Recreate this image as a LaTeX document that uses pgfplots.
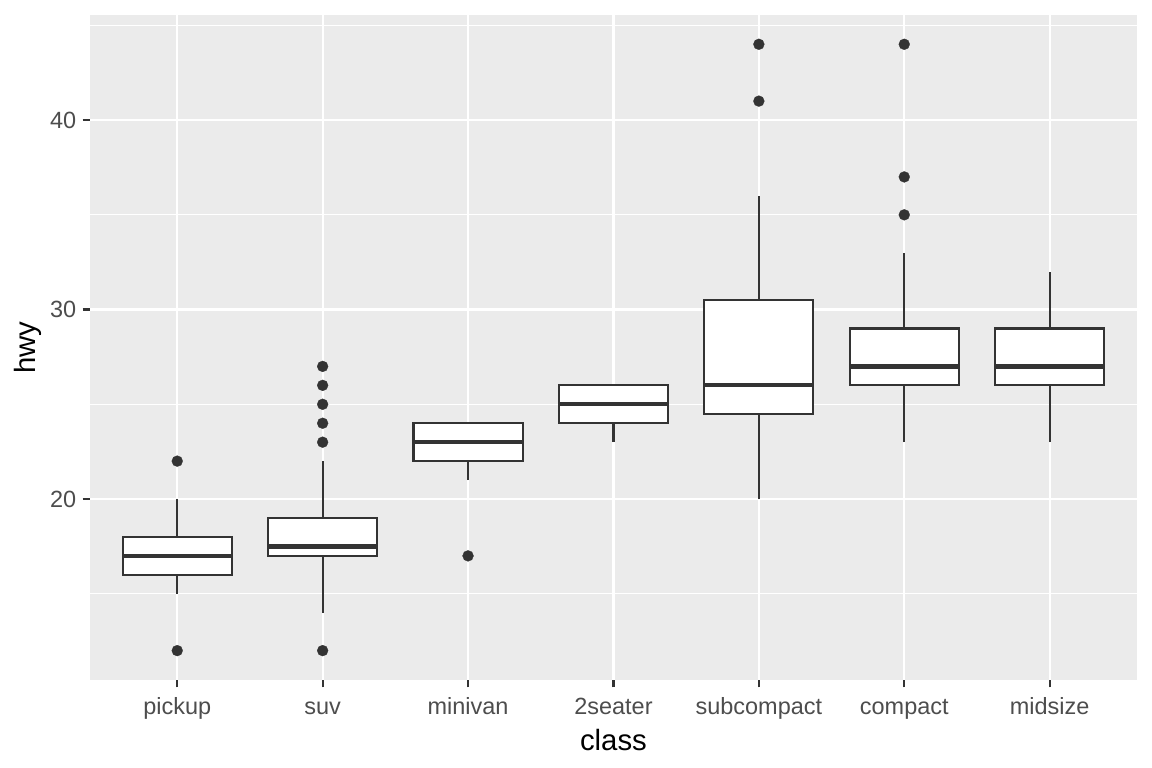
\documentclass[border=0pt]{standalone}
\usepackage{pgfplots}
\pgfplotsset{compat=1.18}
\usepackage{fontspec}
\setmainfont{Liberation Sans}

\definecolor{panelbg}{HTML}{EBEBEB}
\definecolor{boxline}{HTML}{333333}
\definecolor{ticktext}{HTML}{4D4D4D}

\begin{document}
\begin{tikzpicture}
\path[use as bounding box] (-33.75pt,-33pt) rectangle (398.25pt,255pt);
\begin{axis}[
  at={(0,0)}, anchor=south west,
  scale only axis,
  width=392.6pt, height=249.4pt,
  xmin=0.4, xmax=7.6,
  ymin=10.45, ymax=45.55,
  xtick={1,2,3,4,5,6,7},
  xticklabels={pickup,suv,minivan,2seater,subcompact,compact,midsize},
  ytick={20,30,40},
  minor ytick={15,25,35,45},
  grid=both,
  major grid style={white, line width=0.8pt},
  minor grid style={white, line width=0.4pt},
  axis background/.style={fill=panelbg},
  axis line style={draw=none},
  tick pos=left,
  tick align=outside,
  major tick length=2.75pt,
  minor tick length=0pt,
  tick style={boxline, line width=0.8pt},
  /pgf/number format/assume math mode=true,
  ticklabel style={font=\fontsize{8.8}{10}\selectfont, text=ticktext},
  xticklabel style={anchor=north, inner sep=0pt, text height=6.5pt, text depth=2pt, yshift=-3.6pt},
  yticklabel style={anchor=east, inner sep=0pt, xshift=-2.2pt},
  xlabel={class},
  ylabel={hwy},
  label style={font=\fontsize{11}{13}\selectfont},
  xlabel style={at={(axis description cs:0.5,0)}, anchor=center, yshift=-22.5pt},
  ylabel style={at={([xshift=-23.25pt]axis description cs:0,0.5)}, anchor=center},
  unbounded coords=jump,
]
% whiskers
\addplot[boxline, line width=0.8pt] coordinates {
  (1,15) (1,16) (nan,nan) (1,18) (1,20) (nan,nan)
  (2,14) (2,17) (nan,nan) (2,19) (2,22) (nan,nan)
  (3,21) (3,22) (nan,nan)
  (4,23) (4,24) (nan,nan)
  (5,20) (5,24.5) (nan,nan) (5,30.5) (5,36) (nan,nan)
  (6,23) (6,26) (nan,nan) (6,29) (6,33) (nan,nan)
  (7,23) (7,26) (nan,nan) (7,29) (7,32)
};
% boxes (lower and upper quartile)
\addplot[draw=boxline, fill=white, line width=0.8pt, line join=miter] coordinates {
  (0.625,16) (1.375,16) (1.375,18) (0.625,18) (0.625,16) (1.375,16) (nan,nan)
  (1.625,17) (2.375,17) (2.375,19) (1.625,19) (1.625,17) (2.375,17) (nan,nan)
  (2.625,22) (3.375,22) (3.375,24) (2.625,24) (2.625,22) (3.375,22) (nan,nan)
  (3.625,24) (4.375,24) (4.375,26) (3.625,26) (3.625,24) (4.375,24) (nan,nan)
  (4.625,24.5) (5.375,24.5) (5.375,30.5) (4.625,30.5) (4.625,24.5) (5.375,24.5) (nan,nan)
  (5.625,26) (6.375,26) (6.375,29) (5.625,29) (5.625,26) (6.375,26) (nan,nan)
  (6.625,26) (7.375,26) (7.375,29) (6.625,29) (6.625,26) (7.375,26)
};
% medians
\addplot[boxline, line width=1.6pt] coordinates {
  (0.625,17) (1.375,17) (nan,nan)
  (1.625,17.5) (2.375,17.5) (nan,nan)
  (2.625,23) (3.375,23) (nan,nan)
  (3.625,25) (4.375,25) (nan,nan)
  (4.625,26) (5.375,26) (nan,nan)
  (5.625,27) (6.375,27) (nan,nan)
  (6.625,27) (7.375,27)
};
% outliers
\addplot[only marks, mark=*, mark size=2.05pt, boxline, mark options={fill=boxline, draw=boxline, line width=0.1pt}] coordinates {
  (1,12) (1,22)
  (2,12) (2,23) (2,24) (2,25) (2,26) (2,27)
  (3,17)
  (5,41) (5,44)
  (6,35) (6,37) (6,44)
};
\end{axis}
\end{tikzpicture}
\end{document}
